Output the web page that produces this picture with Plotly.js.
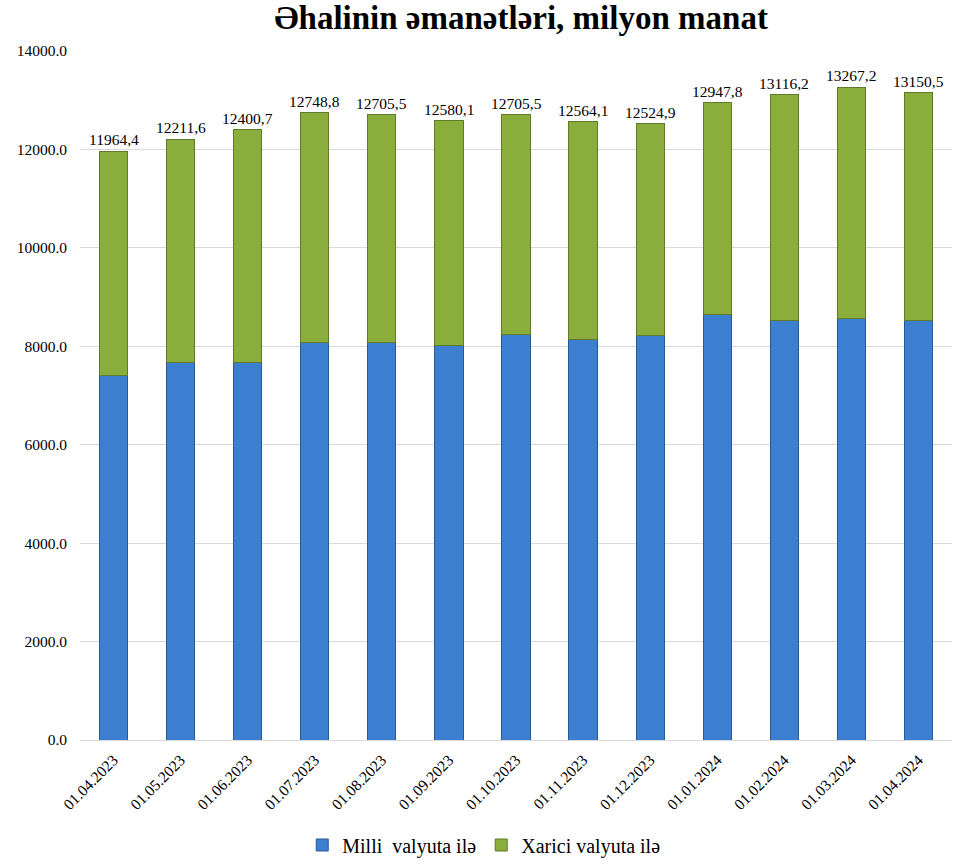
<!DOCTYPE html>
<html>
<head>
<meta charset="utf-8">
<script src="https://cdn.plot.ly/plotly-3.0.1.min.js"></script>
<style>html,body{margin:0;padding:0;background:#fff;}#chart{width:956px;height:864px;}</style>
</head>
<body>
<div id="chart"></div>
<script>
const categories = ["01.04.2023","01.05.2023","01.06.2023","01.07.2023","01.08.2023","01.09.2023","01.10.2023","01.11.2023","01.12.2023","01.01.2024","01.02.2024","01.03.2024","01.04.2024"];
const totals = [11964.4,12211.6,12400.7,12748.8,12705.5,12580.1,12705.5,12564.1,12524.9,12947.8,13116.2,13267.2,13150.5];
const milli = [7397,7661,7680,8074,8074,8020,8236,8128,8224,8643,8521,8562,8521];
const xarici = totals.map((t,i)=>+(t - milli[i]).toFixed(1));
const totalLabels = totals.map(v=>v.toFixed(1).replace('.',','));
const tickVals = [0,2000,4000,6000,8000,10000,12000,14000];
const tickText = tickVals.map(v=>v.toFixed(1));

const serif = "Liberation Serif";

const traces = [
  {type:'bar', name:'Milli  valyuta ilə', x:categories, y:milli,
   marker:{color:'#3c7fd1', line:{color:'#2a5a96', width:1}}, hoverinfo:'y'},
  {type:'bar', name:'Xarici valyuta ilə', x:categories, y:xarici,
   marker:{color:'#8aad3c', line:{color:'#5f7a28', width:1}}, hoverinfo:'y'}
];

const annotations = categories.map((c,i)=>({
  x:c, y:totals[i], text:totalLabels[i], showarrow:false,
  yanchor:'bottom', yshift:1, font:{family:serif, size:15.5, color:'#000'}
}));

const layout = {
  width:956, height:864,
  font:{family:serif, size:15, color:'#000'},
  barmode:'stack', bargap:0.58,
  paper_bgcolor:'#fff', plot_bgcolor:'#fff',
  margin:{l:80, r:4, t:51, b:124},
  title:{text:'<b>Əhalinin əmanətləri, milyon manat</b>', x:0.545, xanchor:'center', y:0.993, yanchor:'top',
         font:{family:serif, size:33, color:'#000'}},
  xaxis:{type:'category', tickangle:-45, tickfont:{family:serif, size:15.5, color:'#000'}, automargin:false,
         ticklabelstandoff:4,
         showline:true, linecolor:'#d9d9d9', linewidth:1, ticks:'', showgrid:false},
  yaxis:{range:[0,14000], tickmode:'array', tickvals:tickVals, ticktext:tickText, automargin:false,
         tickfont:{family:serif, size:15.5, color:'#000'}, ticklabelstandoff:12,
         showgrid:true, gridcolor:'#d9d9d9', gridwidth:1, zeroline:false, showline:false, ticks:'', ticklen:0},
  legend:{orientation:'h', x:0.463, xanchor:'center', yref:'container', y:0.022, yanchor:'middle',
          font:{family:serif, size:20, color:'#000'}, traceorder:'normal', itemwidth:30},
  showlegend:true,
  annotations: annotations
};

Plotly.newPlot('chart', traces, layout, {displayModeBar:false, staticPlot:true});
</script>
</body>
</html>
